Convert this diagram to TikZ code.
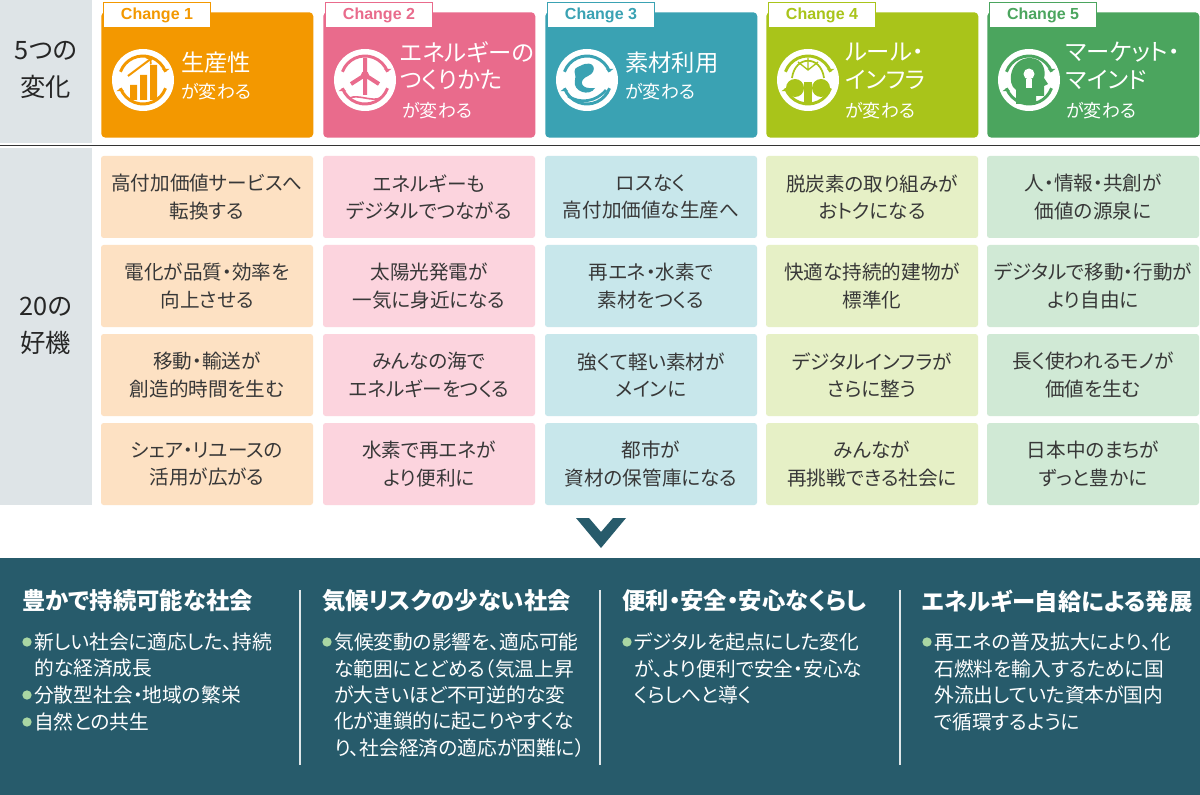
\documentclass[tikz,border=0pt]{standalone}
\usepackage{fontspec}
\setmainfont[RawFeature=+palt]{Noto Sans CJK JP}
\setsansfont{Liberation Sans}
\begin{document}
\begin{tikzpicture}[x=0.75pt,y=-0.75pt,
  cell/.style={rounded corners=2pt,minimum width=159pt,minimum height=61.5pt,anchor=north west,align=center,text=black!78,font=\fontsize{14.7}{20.5}\selectfont,inner sep=0pt},
  head/.style={rounded corners=3pt,minimum width=159pt,minimum height=94pt,anchor=north west,inner sep=0pt},
  tab/.style={draw=#1,fill=white,line width=1pt,minimum width=80pt,minimum height=19pt,anchor=north west,inner sep=0pt,text=#1,font=\sffamily\bfseries\fontsize{12}{12}\selectfont},
  ttl/.style={anchor=west,text=white,font=\fontsize{17.5}{21}\selectfont,align=left,inner sep=0pt},
  sub/.style={anchor=west,text=white,font=\fontsize{13.5}{14}\selectfont,inner sep=0pt},
  btitle/.style={anchor=west,text=white,font=\bfseries\fontsize{17.5}{16}\selectfont,inner sep=0pt},
  bl/.style={anchor=west,text=white,font=\fontsize{14.8}{14}\selectfont,inner sep=0pt},
  dot/.style={circle,fill=bul,inner sep=0pt,minimum size=7pt}]
\definecolor{gbg}{HTML}{DEE4E7}
\definecolor{c1}{HTML}{F39800}\definecolor{l1}{HTML}{FDE1C3}
\definecolor{c2}{HTML}{E96B8C}\definecolor{l2}{HTML}{FCD4DE}
\definecolor{c3}{HTML}{3AA2B3}\definecolor{l3}{HTML}{C8E7EB}
\definecolor{c4}{HTML}{A9C41A}\definecolor{l4}{HTML}{E6F0C6}
\definecolor{c5}{HTML}{4BA55E}\definecolor{l5}{HTML}{D0E9D5}
\definecolor{navy}{HTML}{275B6B}
\definecolor{bul}{HTML}{A9D6A3}
\useasboundingbox (0,0) rectangle (1200,795);
\fill[white] (0,0) rectangle (1200,795);
% left labels
\fill[gbg] (0,0) rectangle (92,143);
\fill[gbg] (0,148) rectangle (92,505);
\node[align=center,font=\fontsize{19}{28}\selectfont,text=black!85] (lab1) at (46,70) {5つの\\変化};
\node[align=center,font=\fontsize{19}{28}\selectfont,text=black!85] (lab2) at (46,326) {20の\\好機};
\draw[black!80,line width=1pt] (0,145.5) -- (1200,145.5);
% headers
\foreach \i/\x in {1/101,2/323,3/545,4/766,5/987}{
  \node[head,fill=c\i] (h\i) at (\x,12) {};
  \node[tab=c\i] (t\i) at (\x+2,2) {Change \i};
  \fill[white] (\x+42,80) circle (31);
  \draw[c\i,line width=2.2pt] (\x+42,80) ++(200:24) arc (200:340:24);
  \draw[c\i,line width=2.2pt] (\x+42,80) ++(20:24) arc (20:160:24);
  \fill[c\i] (\x+42,80) ++(340:24) -- ++(-4,-3) -- ++(8,0) -- cycle;
  \fill[c\i] (\x+42,80) ++(160:24) -- ++(-4,3) -- ++(8,0) -- cycle;
}
% icon glyphs
\fill[c1] (130,85) rectangle (137,100) (140,75) rectangle (147,100) (150,65) rectangle (157,100);
\draw[c1,line width=1.5pt,->] (128,76) -- (152,58);
\fill[c2] (365,75) circle (4);
\draw[c2,line width=3pt] (365,75) -- (365,58) (365,75) -- (351,84) (365,75) -- (379,84) (365,75) -- (365,95);
\draw[c2,line width=1.2pt] (350,98) .. controls (357,94) and (373,102) .. (380,98);
\fill[c3] (580,66) .. controls (595,58) and (598,72) .. (588,76) .. controls (578,80) and (580,90) .. (595,88) .. controls (590,97) and (572,92) .. (575,80) .. controls (577,72) and (570,70) .. (580,66) -- cycle;
\draw[c3,line width=2pt] (568,96) .. controls (580,104) and (596,102) .. (606,90);
\fill[c4] (795,88) circle (9) (821,88) circle (9);
\fill[c4] (804,82) rectangle (812,104);
\draw[c4,line width=1.3pt] (792,78) .. controls (795,55) and (821,55) .. (824,78);
\draw[c4,line width=1pt] (798,62) -- (808,70) -- (818,62) (808,58) -- (808,70);
\fill[c5] (1016,104) -- (1016,90) .. controls (1006,84) and (1010,58) .. (1030,58) .. controls (1044,58) and (1046,72) .. (1044,78) -- (1048,84) -- (1044,86) -- (1044,96) -- (1036,96) -- (1036,104) -- cycle;
\fill[white] (1029,74) circle (5.5);
\fill[white] (1026,79) rectangle (1032,88);
% header texts
\node[ttl] (a1) at (181,63) {生産性};
\node[sub] (b1) at (181,92) {が変わる};
\node[ttl] (a2) at (400,52) {エネルギーの};
\node[ttl] (a2b) at (400,80) {つくりかた};
\node[sub] (b2) at (402,111) {が変わる};
\node[ttl] (a3) at (625,63) {素材利用};
\node[sub] (b3) at (625,92) {が変わる};
\node[ttl] (a4) at (845,52) {ルール・};
\node[ttl] (a4b) at (845,80) {インフラ};
\node[sub] (b4) at (845,111) {が変わる};
\node[ttl] (a5) at (1066,52) {マーケット・};
\node[ttl] (a5b) at (1066,80) {マインド};
\node[sub] (b5) at (1066,111) {が変わる};
% cells
\foreach \i/\x in {1/101,2/323,3/545,4/766,5/987}{
 \foreach \r/\y in {1/156,2/245,3/334,4/423}{
  \fill[l\i,rounded corners=2pt] (\x,\y) rectangle ++(212,82);
 }}
\foreach \x/\i/\ta/\tb/\tc/\td in {
 207/1/{高付加価値サービスへ\\転換する}/{電化が品質・効率を\\向上させる}/{移動・輸送が\\創造的時間を生む}/{シェア・リユースの\\活用が広がる},
 429/2/{エネルギーも\\デジタルでつながる}/{太陽光発電が\\一気に身近になる}/{みんなの海で\\エネルギーをつくる}/{水素で再エネが\\より便利に},
 651/3/{ロスなく\\高付加価値な生産へ}/{再エネ・水素で\\素材をつくる}/{強くて軽い素材が\\メインに}/{都市が\\資材の保管庫になる},
 872/4/{脱炭素の取り組みが\\おトクになる}/{快適な持続的建物が\\標準化}/{デジタルインフラが\\さらに整う}/{みんなが\\再挑戦できる社会に},
 1093/5/{人・情報・共創が\\価値の源泉に}/{デジタルで移動・行動が\\より自由に}/{長く使われるモノが\\価値を生む}/{日本中のまちが\\ずっと豊かに}}{
  \node[cell,anchor=center] (p\i a) at (\x,197) {\ta};
  \node[cell,anchor=center] (p\i b) at (\x,286) {\tb};
  \node[cell,anchor=center] (p\i c) at (\x,375) {\tc};
  \node[cell,anchor=center] (p\i d) at (\x,464) {\td};
}
% chevron
\fill[navy] (576,518) -- (589,518) -- (601,532) -- (613,518) -- (626,518) -- (601,548) -- cycle;
% bottom
\fill[navy] (0,558) rectangle (1200,795);
\draw[white!85!navy,line width=0.8pt] (300,590) -- (300,765) (600,590) -- (600,765) (900,590) -- (900,765);
\node[btitle] (r1) at (22,601) {豊かで持続可能な社会};
\node[btitle] (r2) at (322,601) {気候リスクの少ない社会};
\node[btitle] (r3) at (622,601) {便利・安全・安心なくらし};
\node[btitle] (r4) at (922,601) {エネルギー自給による発展};
\foreach \x in {27,327,627,927}{\node[dot] (d\x) at (\x,642) {};}
\node[dot] (e1) at (27,695) {};
\node[dot] (e2) at (27,722) {};
\node[bl] (s1a) at (34,642) {新しい社会に適応した、持続};
\node[bl] (s1b) at (34,668.5) {的な経済成長};
\node[bl] (s1c) at (34,695) {分散型社会・地域の繁栄};
\node[bl] (s1d) at (34,721.5) {自然との共生};
\node[bl] (s2a) at (334,642) {気候変動の影響を、適応可能};
\node[bl] (s2b) at (334,668.5) {な範囲にとどめる（気温上昇};
\node[bl] (s2c) at (334,695) {が大きいほど不可逆的な変};
\node[bl] (s2d) at (334,721.5) {化が連鎖的に起こりやすくな};
\node[bl] (s2e) at (334,748) {り、社会経済の適応が困難に）};
\node[bl] (s3a) at (634,642) {デジタルを起点にした変化};
\node[bl] (s3b) at (634,668.5) {が、より便利で安全・安心な};
\node[bl] (s3c) at (634,695) {くらしへと導く};
\node[bl] (s4a) at (934,642) {再エネの普及拡大により、化};
\node[bl] (s4b) at (934,668.5) {石燃料を輸入するために国};
\node[bl] (s4c) at (934,695) {外流出していた資本が国内};
\node[bl] (s4d) at (934,721.5) {で循環するように};
\end{tikzpicture}
\end{document}
